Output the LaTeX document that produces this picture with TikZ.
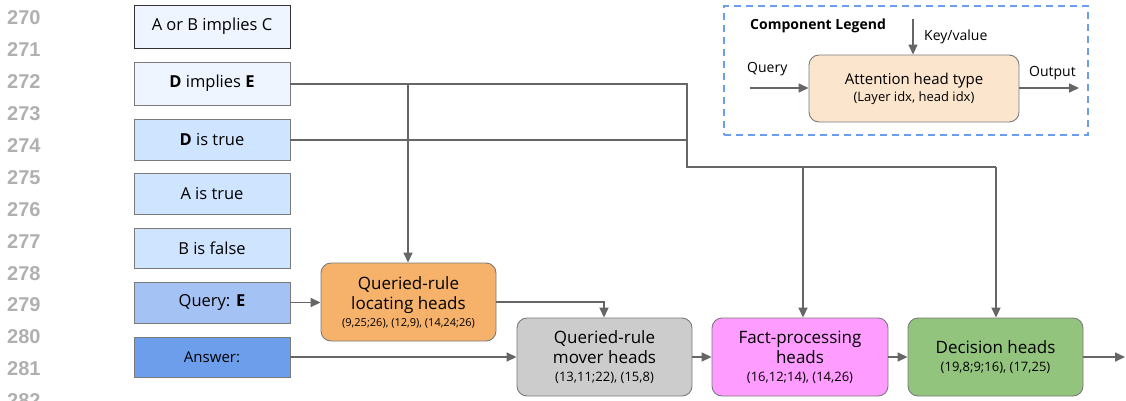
\documentclass[tikz,border=0pt]{standalone}
\usepackage{fontspec}
\setmainfont{Open Sans}
\newfontfamily\numfont{Liberation Sans}
\usetikzlibrary{arrows.meta}
\definecolor{lnum}{HTML}{B0B0B0}
\definecolor{conn}{HTML}{666666}
\definecolor{bord}{HTML}{7A7A7A}
\definecolor{cA}{HTML}{EEF5FF}
\definecolor{cB}{HTML}{CFE4FF}
\definecolor{cC}{HTML}{A4C2F4}
\definecolor{cD}{HTML}{6D9EEB}
\definecolor{cOr}{HTML}{F6B26B}
\definecolor{cGr}{HTML}{CCCCCC}
\definecolor{cPk}{HTML}{FF9CFF}
\definecolor{cGn}{HTML}{93C47D}
\definecolor{cLg}{HTML}{FCE5CD}
\definecolor{cDash}{HTML}{6D9EEB}
\tikzset{
  inbox/.style={draw=bord, line width=0.9pt, minimum width=156pt, inner sep=0pt, font=\fontsize{16.5}{19}\selectfont},
  headbox/.style={draw=bord, line width=0.9pt, rounded corners=10pt, minimum width=175pt, minimum height=78pt, inner sep=0pt, align=center, font=\fontsize{17}{20}\selectfont},
  conline/.style={draw=conn, line width=1.6pt},
  conarrow/.style={conline, -{Triangle[length=10pt,width=9pt]}},
  linenum/.style={anchor=west, text=lnum, font=\numfont\bfseries\fontsize{20}{22}\selectfont, inner sep=0pt},
  lbl/.style={anchor=west, font=\fontsize{14}{16}\selectfont, inner sep=0pt},
}
\newcommand{\smallidx}[1]{{\fontsize{13}{15}\selectfont #1}}
\begin{document}
\begin{tikzpicture}[x=1pt,y=-1pt]
\useasboundingbox (0,0) rectangle (1126,400);
\begin{scope}
\clip (0,0) rectangle (1126,400);
\foreach \i in {0,...,12} {
  \pgfmathtruncatemacro{\n}{270+\i}
  \node[linenum] (ln\i) at (7,{18+31.9*\i}) {\n};
}
\end{scope}
% input boxes
\node[inbox, draw=black!80, fill=cA, minimum height=43pt] (b1) at (212,26.5) {A or B implies C};
\node[inbox, fill=cA, minimum height=43pt] (b2) at (212,83.5) {\textbf{D} implies \textbf{E}};
\node[inbox, fill=cB, minimum height=41pt] (b3) at (212,139.5) {\textbf{D} is true};
\node[inbox, fill=cB, minimum height=41pt] (b4) at (212,193.5) {A is true};
\node[inbox, fill=cB, minimum height=40pt] (b5) at (212,248) {B is false};
\node[inbox, fill=cC, minimum height=41pt] (b6) at (212,302.5) {Query: \textbf{E}};
\node[inbox, fill=cD, minimum height=40pt, font=\fontsize{15}{18}\selectfont] (b7) at (212,357) {Answer:};
% head boxes
\node[headbox, fill=cOr] (loc) at (408.5,302) {Queried-rule\\locating heads\\[-3pt]{\fontsize{11}{13}\selectfont (9,25;26), (12,9), (14,24;26)}};
\node[headbox, fill=cGr] (mov) at (604.5,357) {Queried-rule\\mover heads\\[-2pt]\smallidx{(13,11;22), (15,8)}};
\node[headbox, fill=cPk, minimum width=176pt] (fact) at (800,357) {Fact-processing\\heads\\[-2pt]\smallidx{(16,12;14), (14,26)}};
\node[headbox, fill=cGn] (dec) at (995.5,357) {Decision heads\\[-2pt]\smallidx{(19,8;9;16), (17,25)}};
\coordinate (outend) at (1125,357);
% connectors
\coordinate (j1) at (408,84);
\coordinate (j2) at (687,84);
\coordinate (j3) at (687,167);
\coordinate (j4) at (803,167);
\coordinate (j5) at (996,167);
\coordinate (j6) at (687,140);
\draw[conline] (b2.east |- j1) -- (j2) -- (j3) -- (j5);
\draw[conline] (b3.east |- j6) -- (j6);
\draw[conarrow] (j1) -- (j1 |- loc.north);
\draw[conarrow] (j4) -- (j4 |- fact.north);
\draw[conarrow] (j5) -- (j5 |- dec.north);
\draw[conarrow] (b6.east) -- (loc.west |- b6.east);
\draw[conarrow] (b7.east) -- (mov.west);
\coordinate (j7) at (604,302);
\draw[conarrow] (loc.east |- j7) -- (j7) -- (j7 |- mov.north);
\draw[conarrow] (mov.east) -- (fact.west);
\draw[conarrow] (fact.east) -- (dec.west);
\draw[conarrow] (dec.east) -- (outend);
% legend
\node[draw=cDash, dash pattern=on 7pt off 5pt, line width=1.5pt, minimum width=364pt, minimum height=129pt, anchor=north west, inner sep=0pt] (legbox) at (723,5) {};
\node[anchor=west, font=\bfseries\fontsize{14}{16}\selectfont, inner sep=0pt] (legtitle) at (750,26) {Component Legend};
\node[headbox, fill=cLg, minimum width=210pt, minimum height=67pt, font=\fontsize{15}{18}\selectfont] (legnode) at (914,88.5) {Attention head type\\[-1pt]{\fontsize{13}{15}\selectfont (Layer idx, head idx)}};
\coordinate (kvtop) at (913,19);
\draw[conarrow] (kvtop) -- (kvtop |- legnode.north);
\node[lbl] (kvlabel) at (924,37) {Key/value};
\coordinate (qstart) at (750,88);
\draw[conarrow] (qstart) -- (legnode.west |- qstart);
\node[lbl] (qlabel) at (747,69) {Query};
\coordinate (oend) at (1079,88);
\draw[conarrow] (legnode.east |- oend) -- (oend);
\node[lbl] (olabel) at (1029,73) {Output};
\end{tikzpicture}
\end{document}
